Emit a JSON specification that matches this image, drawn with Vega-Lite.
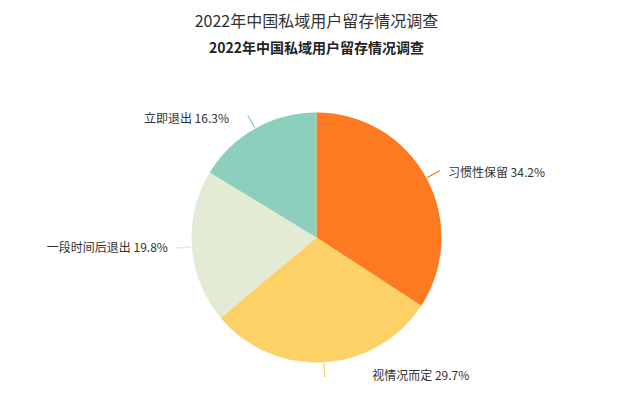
{
  "$schema": "https://vega.github.io/schema/vega-lite/v6.json",
  "width": 633,
  "height": 400,
  "autosize": {"type": "fit", "contains": "padding"},
  "padding": {"top": 14, "left": 0, "right": 0, "bottom": 0},
  "title": {
    "text": "2022年中国私域用户留存情况调查",
    "subtitle": "2022年中国私域用户留存情况调查",
    "anchor": "middle",
    "font": "Noto Sans CJK SC",
    "fontSize": 16,
    "fontWeight": "normal",
    "color": "#333333",
    "subtitleFont": "Noto Sans CJK SC",
    "subtitleFontSize": 14,
    "subtitleFontWeight": "bold",
    "subtitleColor": "#222222",
    "subtitlePadding": 12,
    "offset": 19
  },
  "data": {
    "values": [
      {"category": "习惯性保留", "value": 34.2},
      {"category": "视情况而定", "value": 29.7},
      {"category": "一段时间后退出", "value": 19.8},
      {"category": "立即退出", "value": 16.3}
    ]
  },
  "layer": [
    {
      "mark": {"type": "arc", "outerRadius": 125},
      "encoding": {
        "theta": {"field": "value", "type": "quantitative", "stack": true},
        "order": {"field": "value", "type": "quantitative", "sort": "descending"},
        "color": {
          "field": "category",
          "type": "nominal",
          "scale": {
            "domain": ["习惯性保留", "视情况而定", "一段时间后退出", "立即退出"],
            "range": ["#FD7A20", "#FDD166", "#E3EBD5", "#8BCFBC"]
          },
          "legend": null
        }
      }
    },
    {
      "transform": [
        {"stack": "value", "groupby": [], "sort": [{"field": "value", "order": "descending"}], "as": ["v0", "v1"]},
        {"fold": ["v0", "v1"], "as": ["edge", "angle"]},
        {"aggregate": [{"op": "mean", "field": "angle", "as": "mid"}], "groupby": ["category", "value"]},
        {"calculate": "datum.category + ' ' + format(datum.value, '.1f') + '%'", "as": "label"}
      ],
      "layer": [
        {
          "mark": {"type": "arc", "innerRadius": 126, "outerRadius": 140, "filled": false, "strokeWidth": 1},
          "encoding": {
            "theta": {"field": "mid", "type": "quantitative", "stack": null},
            "theta2": {"field": "mid"},
            "color": {"field": "category", "type": "nominal", "legend": null}
          }
        },
        {
          "transform": [{"filter": "datum.category == '习惯性保留'"}],
          "mark": {"type": "text", "radius": 146, "align": "left", "dx": 3, "dy": 5, "fontSize": 12, "font": "Noto Sans CJK SC", "color": "#333333"},
          "encoding": {
            "theta": {"field": "mid", "type": "quantitative", "stack": null},
            "text": {"field": "label"}
          }
        },
        {
          "transform": [{"filter": "datum.category == '视情况而定'"}],
          "mark": {"type": "text", "radius": 146, "align": "left", "dx": 47, "dy": -7, "fontSize": 12, "font": "Noto Sans CJK SC", "color": "#333333"},
          "encoding": {
            "theta": {"field": "mid", "type": "quantitative", "stack": null},
            "text": {"field": "label"}
          }
        },
        {
          "transform": [{"filter": "datum.category == '一段时间后退出'"}],
          "mark": {"type": "text", "radius": 146, "align": "right", "dx": -3, "dy": 0, "fontSize": 12, "font": "Noto Sans CJK SC", "color": "#333333"},
          "encoding": {
            "theta": {"field": "mid", "type": "quantitative", "stack": null},
            "text": {"field": "label"}
          }
        },
        {
          "transform": [{"filter": "datum.category == '立即退出'"}],
          "mark": {"type": "text", "radius": 146, "align": "right", "dx": -16, "dy": 9, "fontSize": 12, "font": "Noto Sans CJK SC", "color": "#333333"},
          "encoding": {
            "theta": {"field": "mid", "type": "quantitative", "stack": null},
            "text": {"field": "label"}
          }
        }
      ]
    }
  ],
  "config": {"view": {"stroke": null}}
}
